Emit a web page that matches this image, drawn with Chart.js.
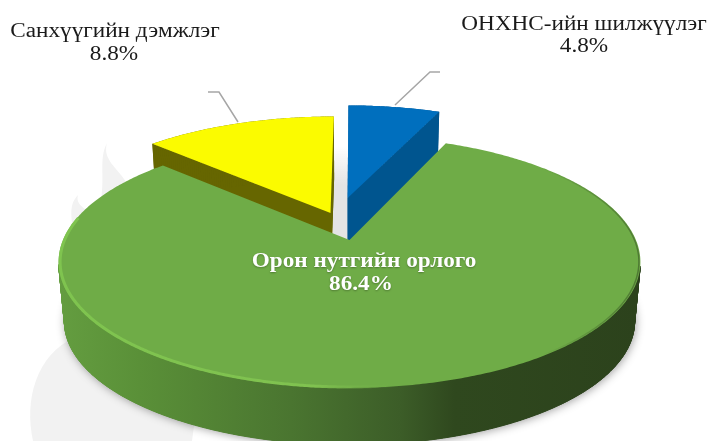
<!DOCTYPE html>
<html>
<head>
<meta charset="utf-8">
<style>
    html, body { margin: 0; padding: 0; background: #fff; overflow: hidden; }
    #pie { display: block; }
</style>
<script src="https://cdn.jsdelivr.net/npm/chart.js@4"></script>
</head>
<body>
<canvas id="pie" width="709" height="441"></canvas>
<script>
const categories = ["Орон нутгийн орлого", "Санхүүгийн дэмжлэг", "ОНХНС-ийн шилжүүлэг"];
// percentages as printed on the labels
const printedShares = [86.4, 8.8, 4.8];
// wedge sizes as drawn in the picture, they are wider than the printed numbers for the two small slices
const wedgeValues = [80.6, 13.05, 6.35];

const topColors = ["#6fac47", "#fbfb00", "#006fbe"];
const wallColors = [null, "#666600", "#00558f"];
// how far each slice is pulled out, on the pie plane (1 = one radius)
const explode = [[0, 0], [-0.069, -0.23], [-0.007, -0.367]];

const WIDEN = 1.425, SQUASH = 0.607, PERSP = 0.175;
const DEPTH = 60, LOWER_SCALE = 0.98;
const TEXT_STRETCH = 1.16;
const SERIF = '"Liberation Serif", "Times New Roman", serif';

function projectPoint(arc, u, v, lower) {
    const w = 1 - PERSP * v;
    const s = lower ? LOWER_SCALE : 1;
    return {
        x: arc.x + (arc.outerRadius * WIDEN * u / w) * s,
        y: arc.y + (arc.outerRadius * SQUASH * v / w) * s + (lower ? DEPTH : 0),
    };
}

function wedgeOutline(arc, shift, lower) {
    const pts = [projectPoint(arc, shift[0], shift[1], lower)];
    const n = Math.ceil((arc.endAngle - arc.startAngle) / 0.01);
    for (let i = 0; i <= n; i++) {
        const a = arc.startAngle + (arc.endAngle - arc.startAngle) * i / n;
        pts.push(projectPoint(arc, Math.cos(a) + shift[0], Math.sin(a) + shift[1], lower));
    }
    return pts;
}

function tracePath(ctx, pts) {
    ctx.beginPath();
    pts.forEach((p, i) => (i ? ctx.lineTo(p.x, p.y) : ctx.moveTo(p.x, p.y)));
    ctx.closePath();
}

function drawWatermark(ctx) {
    ctx.fillStyle = "#f2f2f2";
    ctx.beginPath();
    ctx.moveTo(33, 441);
    ctx.bezierCurveTo(24, 400, 36, 355, 75, 337);
    ctx.lineTo(200, 380);
    ctx.lineTo(192, 441);
    ctx.closePath();
    ctx.fill();
    ctx.beginPath();
    ctx.moveTo(107, 143);
    ctx.bezierCurveTo(98, 160, 106, 178, 100, 205);
    ctx.lineTo(126, 182);
    ctx.bezierCurveTo(118, 168, 102, 160, 107, 143);
    ctx.closePath();
    ctx.fill();
    ctx.beginPath();
    ctx.moveTo(78, 195);
    ctx.bezierCurveTo(68, 205, 72, 218, 73, 232);
    ctx.lineTo(86, 210);
    ctx.bezierCurveTo(80, 205, 76, 202, 78, 195);
    ctx.closePath();
    ctx.fill();
}

function drawGapShadow(ctx) {
    const g = ctx.createLinearGradient(0, 146, 0, 185);
    g.addColorStop(0, "rgba(228,228,228,0)");
    g.addColorStop(1, "#e4e4e4");
    ctx.fillStyle = g;
    ctx.fillRect(333, 146, 16, 96);
}

function strokeRim(ctx, arc, from, to, style, width) {
    ctx.strokeStyle = style;
    ctx.lineWidth = width;
    ctx.beginPath();
    for (let j = 0; j <= 300; j++) {
        const a = from + (to - from) * j / 300;
        const p = projectPoint(arc, Math.cos(a) * 0.995, Math.sin(a) * 0.995, false);
        j ? ctx.lineTo(p.x, p.y) : ctx.moveTo(p.x, p.y);
    }
    ctx.stroke();
}

function drawSlice(ctx, arc, i) {
    const top = wedgeOutline(arc, explode[i], false);
    const low = wedgeOutline(arc, explode[i], true);

    let wall = wallColors[i];
    if (!wall) {
        wall = ctx.createLinearGradient(58, 0, 641, 0);
        wall.addColorStop(0, "#649d40");
        wall.addColorStop(0.14, "#5a9038");
        wall.addColorStop(0.4, "#4a7530");
        wall.addColorStop(0.587, "#3c5d28");
        wall.addColorStop(0.68, "#2f481e");
        wall.addColorStop(1, "#2c421c");
    }

    ctx.save();
    if (i === 0) {
        ctx.shadowColor = "rgba(0,0,0,0.4)";
        ctx.shadowBlur = 10;
        ctx.shadowOffsetX = 1;
        ctx.shadowOffsetY = 1;
    }
    ctx.fillStyle = wall;
    tracePath(ctx, low);
    ctx.fill();
    ctx.restore();

    ctx.fillStyle = wall;
    ctx.strokeStyle = wall;
    ctx.lineWidth = 1;
    for (let j = 0; j < top.length; j++) {
        const k = (j + 1) % top.length;
        // the back of the big slice is hidden, and a stroke there would peek out
        if (i === 0 && top[j].y < arc.y + 25) continue;
        tracePath(ctx, [top[j], top[k], low[k], low[j]]);
        ctx.fill();
        if (i === 0) ctx.stroke();
    }

    ctx.fillStyle = topColors[i];
    tracePath(ctx, top);
    ctx.fill();

    if (i === 0) {
        const light = ctx.createLinearGradient(58, 0, 400, 0);
        light.addColorStop(0, "#7fc44f");
        light.addColorStop(0.75, "#80c250");
        light.addColorStop(1, "rgba(111,172,71,0)");
        strokeRim(ctx, arc, Math.PI * 0.45, Math.PI * 1.06, light, 3);
        const dark = ctx.createLinearGradient(540, 0, 641, 0);
        dark.addColorStop(0, "rgba(45,70,30,0)");
        dark.addColorStop(1, "rgba(45,70,30,0.5)");
        strokeRim(ctx, arc, -Math.PI * 0.28, Math.PI * 0.3, dark, 1.5);
    }
}

function drawLeaders(ctx) {
    ctx.strokeStyle = "#a6a6a6";
    ctx.lineWidth = 1.5;
    ctx.beginPath();
    ctx.moveTo(395, 105);
    ctx.lineTo(430, 72);
    ctx.lineTo(440, 72);
    ctx.moveTo(238, 122);
    ctx.lineTo(219, 92);
    ctx.lineTo(208, 92);
    ctx.stroke();
}

function wideText(ctx, str, cx, y) {
    ctx.save();
    ctx.translate(cx, y);
    ctx.scale(TEXT_STRETCH, 1);
    ctx.fillText(str, 0, 0);
    ctx.restore();
}

function drawLabels(ctx) {
    const pct = i => printedShares[i].toFixed(1) + "%";
    ctx.textAlign = "center";
    ctx.textBaseline = "alphabetic";

    ctx.fillStyle = "#1a1a1a";
    ctx.font = "20px " + SERIF;
    wideText(ctx, categories[1], 115, 37);
    wideText(ctx, pct(1), 114, 60);
    wideText(ctx, categories[2], 584, 30);
    wideText(ctx, pct(2), 584, 52);

    ctx.save();
    ctx.shadowColor = "rgba(0,0,0,0.3)";
    ctx.shadowBlur = 2;
    ctx.shadowOffsetY = 1;
    ctx.fillStyle = "#ffffff";
    ctx.font = "bold 20px " + SERIF;
    wideText(ctx, categories[0], 364, 267);
    wideText(ctx, pct(0), 361, 290);
    ctx.restore();
}

const pie3d = {
    id: "pie3d",
    beforeDatasetDraw(chart) {
        const ctx = chart.ctx;
        const arcs = chart.getDatasetMeta(0).data;
        drawWatermark(ctx);
        drawGapShadow(ctx);
        // back slices first, the big one overlaps them
        [2, 1, 0].forEach(i => drawSlice(ctx, arcs[i], i));
        drawLeaders(ctx);
        drawLabels(ctx);
        return false;
    },
};

new Chart(document.getElementById("pie"), {
    type: "pie",
    data: {
        labels: categories,
        datasets: [{ data: wedgeValues, backgroundColor: topColors, borderWidth: 0 }],
    },
    options: {
        responsive: false,
        animation: false,
        rotation: 23,
        layout: { padding: { left: 0, right: 10, top: 39, bottom: 0 } },
        plugins: {
            legend: { display: false },
            tooltip: { enabled: false },
        },
    },
    plugins: [pie3d],
});
</script>
</body>
</html>
